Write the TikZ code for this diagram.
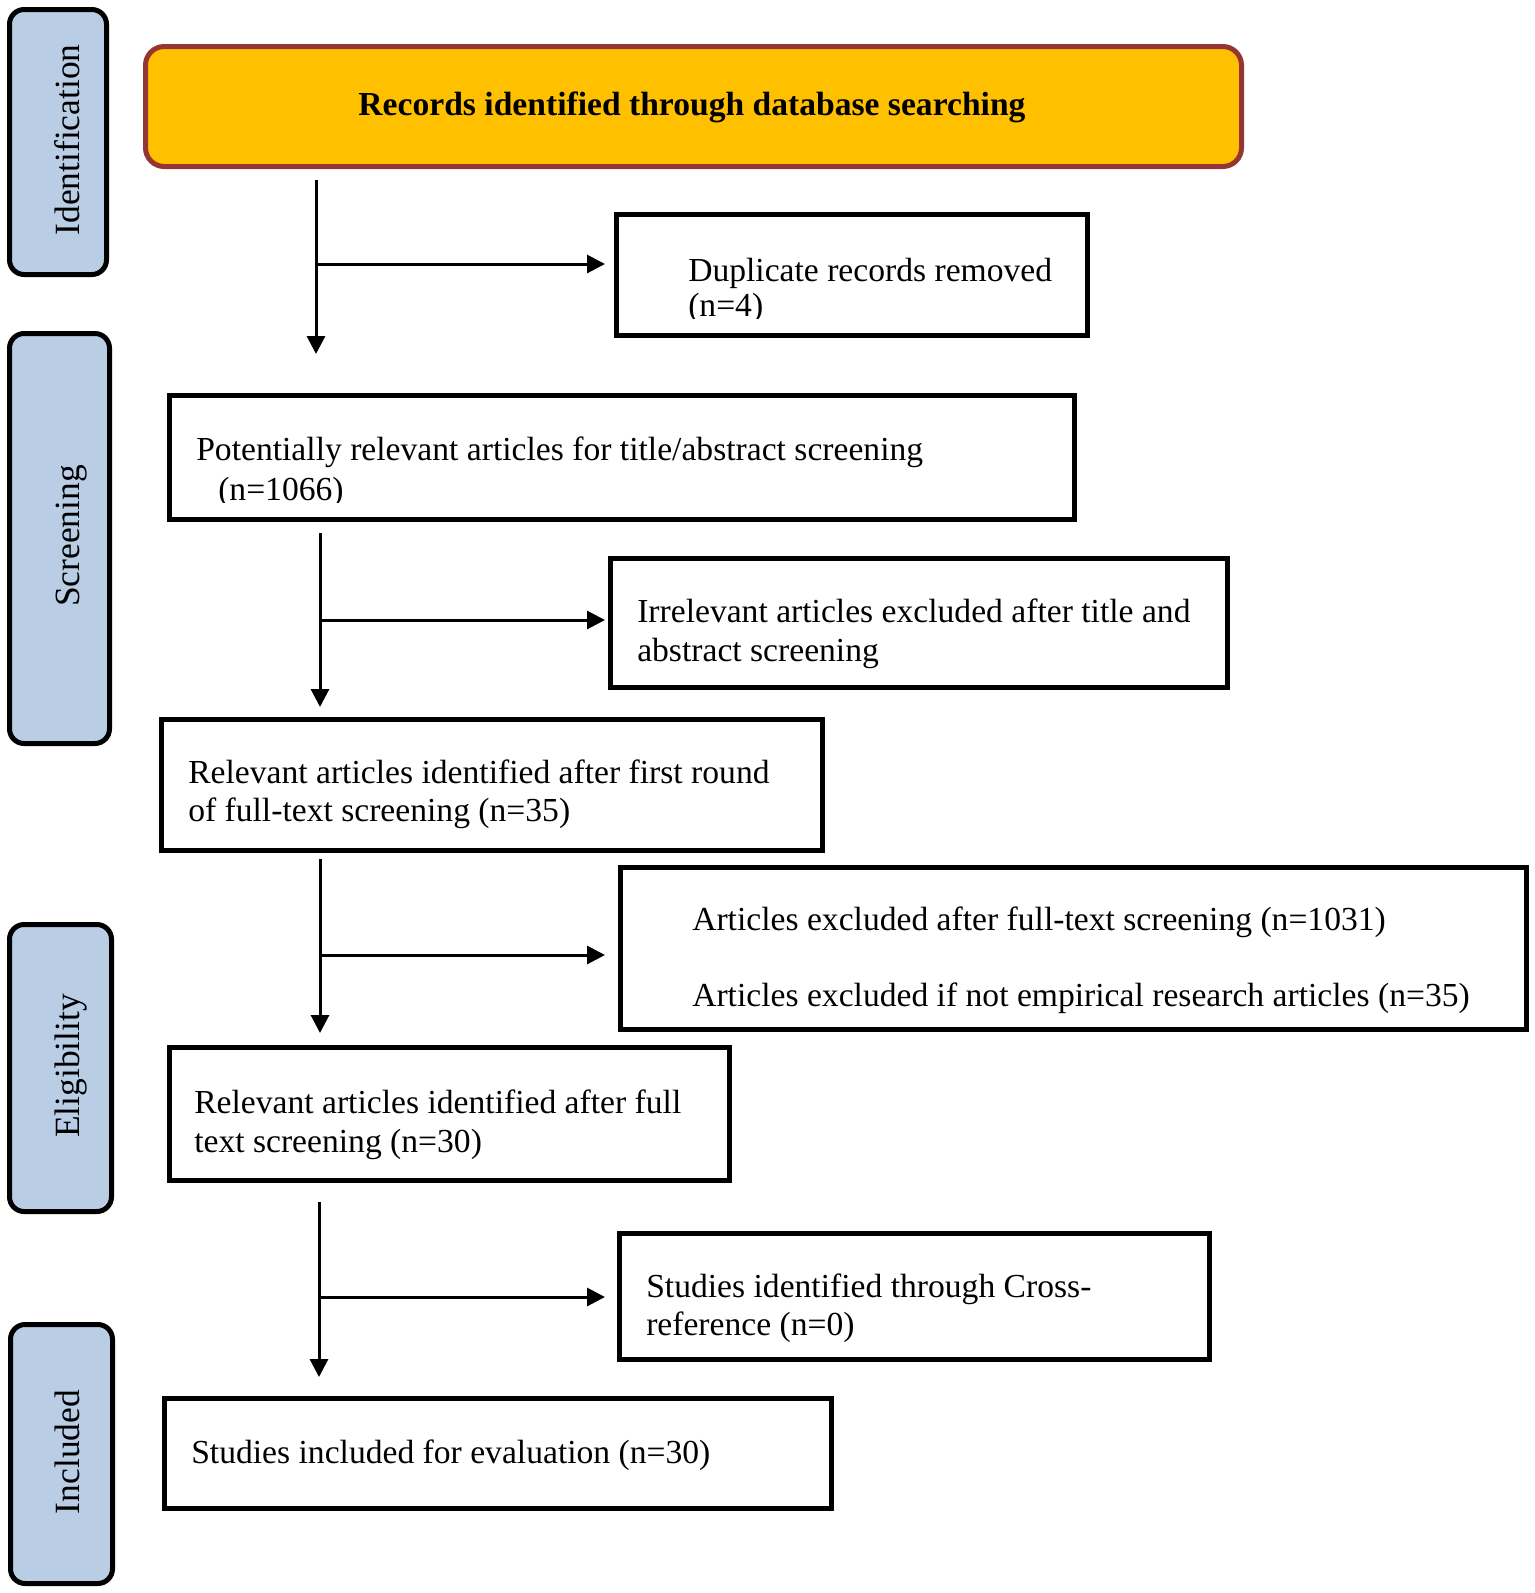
\documentclass[tikz,border=0pt]{standalone}
\usepackage{fontspec}
\setmainfont{Liberation Serif}
\usetikzlibrary{arrows.meta}
\definecolor{orangefill}{HTML}{FFC000}
\definecolor{redborder}{HTML}{963634}
\definecolor{sideblue}{HTML}{B9CDE5}
\begin{document}
\begin{tikzpicture}[x=0.75pt,y=-0.75pt,
  box/.style={draw=black, line width=3.75pt, inner sep=0pt, anchor=north west},
  sz/.style 2 args={minimum width=#1*0.75pt, minimum height=#2*0.75pt},
  sidebox/.style={box, fill=sideblue, rounded corners=11pt},
  txt/.style={anchor=base west, inner sep=0pt, font=\fontsize{25.2}{30}\selectfont},
  sidetxt/.style={rotate=90, anchor=base, inner sep=0pt, font=\fontsize{26.6}{32}\selectfont},
  arr/.style={line width=2.25pt, -{Triangle[length=13.5pt,width=13.5pt]}}]
\useasboundingbox (0,0) rectangle (1535,1593);

% side stage boxes
\node[sidebox, sz={97}{265}] (sid) at (7,7) {};
\node[sidebox, sz={100}{410}] (sscr) at (7,331) {};
\node[sidebox, sz={102}{287}] (selig) at (7,922) {};
\node[sidebox, sz={102}{259}] (sinc) at (8,1322) {};
\node[sidetxt] (tid) at (79,140) {Identification};
\node[sidetxt] (tscr) at (79,536) {Screening};
\node[sidetxt] (telig) at (79,1066) {Eligibility};
\node[sidetxt] (tinc) at (79,1452) {Included};

% top box
\node[box, draw=redborder, fill=orangefill, rounded corners=14pt, sz={1096}{120}] (top) at (143,44) {};
\node[txt, anchor=base, font=\fontsize{25.2}{30}\selectfont\bfseries] (toptxt) at (692,115) {Records identified through database searching};

% boxes
\node[box, sz={471}{121}] (dup) at (614,212) {};
\node[txt] (dup1) at (688,281) {Duplicate records removed};
\begin{scope}
\clip (600,200) rectangle (1100,318);
\node[txt] (dup2) at (688,316) {(n=4)};
\end{scope}

\node[box, sz={905}{124}] (pot) at (167,393) {};
\node[txt] (pot1) at (196,460) {Potentially relevant articles for title/abstract screening};
\begin{scope}
\clip (180,400) rectangle (1060,502);
\node[txt] (pot2) at (218,500) {(n=1066)};
\end{scope}

\node[box, sz={617}{129}] (irr) at (608,556) {};
\node[txt] (irr1) at (637,622) {Irrelevant articles excluded after title and};
\node[txt] (irr2) at (637,661) {abstract screening};

\node[box, sz={661}{131}] (rel1) at (159,717) {};
\node[txt] (rel1a) at (188,783) {Relevant articles identified after first round};
\node[txt] (rel1b) at (188,821) {of full-text screening (n=35)};

\node[box, sz={906}{162}] (artx) at (618,865) {};
\node[txt] (artx1) at (692,930) {Articles excluded after full-text screening (n=1031)};
\node[txt] (artx2) at (692,1006) {Articles excluded if not empirical research articles (n=35)};

\node[box, sz={560}{133}] (rel2) at (167,1045) {};
\node[txt] (rel2a) at (194,1113) {Relevant articles identified after full};
\node[txt] (rel2b) at (194,1152) {text screening (n=30)};

\node[box, sz={590}{126}] (cross) at (617,1231) {};
\node[txt] (cross1) at (646,1297) {Studies identified through Cross-};
\node[txt] (cross2) at (646,1335) {reference (n=0)};

\node[box, sz={667}{110}] (incl) at (162,1396) {};
\node[txt] (incl1) at (191,1463) {Studies included for evaluation (n=30)};

% connectors
\coordinate (v1s) at (316,180); \coordinate (v1e) at (316,354);
\coordinate (h1s) at (318,264); \coordinate (h1e) at (605,264);
\coordinate (v2s) at (320,533); \coordinate (v2e) at (320,707);
\coordinate (h2s) at (322,620); \coordinate (h2e) at (605,620);
\coordinate (v3s) at (320,859); \coordinate (v3e) at (320,1033);
\coordinate (h3s) at (322,955); \coordinate (h3e) at (605,955);
\coordinate (v4s) at (319,1202); \coordinate (v4e) at (319,1377);
\coordinate (h4s) at (321,1297); \coordinate (h4e) at (605,1297);
\draw[arr] (v1s) -- (v1e);
\draw[arr] (h1s) -- (h1e);
\draw[arr] (v2s) -- (v2e);
\draw[arr] (h2s) -- (h2e);
\draw[arr] (v3s) -- (v3e);
\draw[arr] (h3s) -- (h3e);
\draw[arr] (v4s) -- (v4e);
\draw[arr] (h4s) -- (h4e);
\end{tikzpicture}
\end{document}
